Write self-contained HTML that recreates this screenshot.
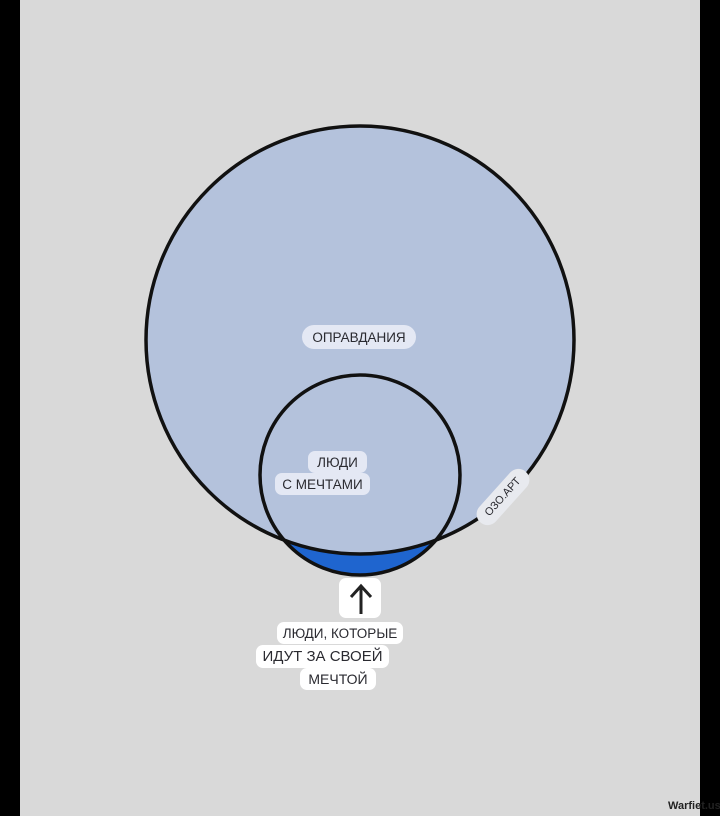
<!DOCTYPE html>
<html><head><meta charset="utf-8"><style>
body{margin:0;width:720px;height:816px;overflow:hidden;background:#d9d9d9;font-family:"Liberation Sans","DejaVu Sans",sans-serif;}
.l{position:absolute;color:#2a2a30;font-size:13.5px;display:flex;align-items:center;justify-content:center;border-radius:7px;white-space:nowrap;}
</style></head><body>
<div style="position:absolute;left:0;top:0;width:20px;height:816px;background:#000"></div>
<div style="position:absolute;left:700px;top:0;width:20px;height:816px;background:#000"></div>
<svg width="720" height="816" style="position:absolute;left:0;top:0">
<circle cx="360" cy="475" r="100" fill="#1f65cf"/>
<circle cx="360" cy="340" r="214" fill="#b4c2dc"/>
<circle cx="360" cy="340" r="214" fill="none" stroke="#111" stroke-width="3.5"/>
<circle cx="360" cy="475" r="100" fill="none" stroke="#111" stroke-width="3.5"/>
<rect x="339" y="578" width="42" height="40" rx="7" fill="#fff"/>
<path d="M361 614 V588 M351 597 L361 586 L371 597" fill="none" stroke="#222" stroke-width="3"/>
</svg>
<div class="l" style="left:302px;top:325px;width:114px;height:24px;background:#e4e8f4;border-radius:12px">ОПРАВДАНИЯ</div>
<div class="l" style="left:308px;top:451px;width:59px;height:22px;background:#e4e8f4">ЛЮДИ</div>
<div class="l" style="left:275px;top:473px;width:95px;height:22px;background:#e4e8f4">С МЕЧТАМИ</div>
<div class="l" style="left:469px;top:486px;width:68px;height:22px;background:#e8eaef;border-radius:11px;font-size:11px;transform:rotate(-48deg)">ОЗО.АРТ</div>
<div class="l" style="left:277px;top:622px;width:126px;height:22px;background:#fff">ЛЮДИ, КОТОРЫЕ</div>
<div class="l" style="left:256px;top:645px;width:133px;height:23px;background:#fff;font-size:15px">ИДУТ ЗА СВОЕЙ</div>
<div class="l" style="left:300px;top:668px;width:76px;height:22px;background:#fff;font-size:14px">МЕЧТОЙ</div>
<div style="position:absolute;left:668px;top:800px;font-size:11px;font-weight:bold;color:#222">Warfiet.us</div>
</body></html>
